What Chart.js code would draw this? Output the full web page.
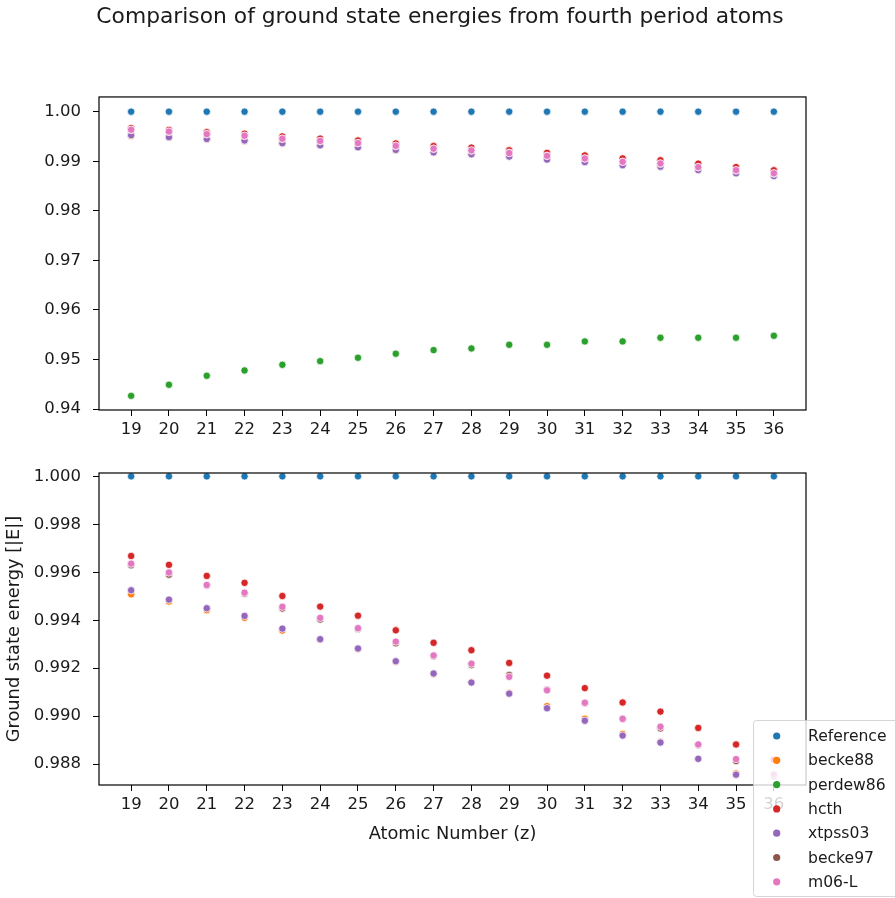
<!DOCTYPE html>
<html>
<head>
<meta charset="utf-8">
<script src="https://cdn.jsdelivr.net/npm/chart.js@4.4.1/dist/chart.umd.min.js"></script>
<style>
  html, body { margin: 0; padding: 0; background: #fff; }
  body { width: 895px; height: 898px; position: relative; overflow: hidden; }
  canvas { position: absolute; left: 0; }
  #topChart { top: 0; }
  #bottomChart { top: 440px; }
</style>
</head>
<body>
<canvas id="topChart" width="880" height="440"></canvas>
<canvas id="bottomChart" width="895" height="458"></canvas>
<script>
// Atomic numbers of the fourth period (K .. Kr)
const atomicNumbers = [19, 20, 21, 22, 23, 24, 25, 26, 27, 28, 29, 30, 31, 32, 33, 34, 35, 36];

// Ground state energies relative to the reference
const reference = [1, 1, 1, 1, 1, 1, 1, 1, 1, 1, 1, 1, 1, 1, 1, 1, 1, 1];
const becke88 = [0.99508, 0.99478, 0.99442, 0.99410, 0.99357, 0.99319, 0.99280, 0.99227, 0.99176,
                 0.99142, 0.99097, 0.99042, 0.98989, 0.98926, 0.98892, 0.98823, 0.98761, 0.98705];
const perdew86 = [0.94266, 0.94489, 0.94671, 0.94778, 0.94892, 0.94966, 0.95034, 0.95115, 0.95189,
                  0.95222, 0.95296, 0.95296, 0.95364, 0.95364, 0.95438, 0.95438, 0.95438, 0.95478];
const hcth = [0.99668, 0.99631, 0.99585, 0.99556, 0.99501, 0.99457, 0.99419, 0.99358, 0.99306,
              0.99275, 0.99222, 0.99169, 0.99117, 0.99057, 0.99019, 0.98951, 0.98882, 0.98818];
const xtpss03 = [0.99525, 0.99486, 0.99450, 0.99418, 0.99365, 0.99321, 0.99282, 0.99229, 0.99178,
                 0.99140, 0.99094, 0.99033, 0.98981, 0.98919, 0.98890, 0.98822, 0.98756, 0.98700];
const becke97 = [0.99629, 0.99590, 0.99545, 0.99511, 0.99449, 0.99403, 0.99364, 0.99304, 0.99250,
                 0.99213, 0.99172, 0.99110, 0.99054, 0.98988, 0.98949, 0.98880, 0.98813, 0.98750];
const m06L = [0.99636, 0.99599, 0.99547, 0.99515, 0.99456, 0.99410, 0.99367, 0.99311, 0.99253,
              0.99219, 0.99164, 0.99108, 0.99056, 0.98989, 0.98956, 0.98882, 0.98821, 0.98757];

const seriesNames = ['Reference', 'becke88', 'perdew86', 'hcth', 'xtpss03', 'becke97', 'm06-L'];
const seriesValues = [reference, becke88, perdew86, hcth, xtpss03, becke97, m06L];
const seriesColors = ['#1f77b4', '#ff7f0e', '#2ca02c', '#d62728', '#9467bd', '#8c564b', '#e377c2'];

// Tick labels
const topYTicks = [0.94, 0.95, 0.96, 0.97, 0.98, 0.99, 1.00];
const bottomYTicks = [0.988, 0.990, 0.992, 0.994, 0.996, 0.998, 1.000];

const FONT = 'DejaVu Sans';
const TEXT = '#1a1a1a';

Chart.defaults.font.family = FONT;
Chart.defaults.color = TEXT;

// Box around the plot area, like matplotlib spines
const framePlugin = {
    id: 'frame',
    afterDatasetsDraw(chart) {
        const { ctx, chartArea: a } = chart;
        ctx.save();
        ctx.strokeStyle = '#000';
        ctx.lineWidth = 1.2;
        ctx.strokeRect(a.left, a.top, a.right - a.left, a.bottom - a.top);
        ctx.restore();
    }
};

// Legend box sticking out at the bottom right of the lower plot
const sideLegend = {
    id: 'sideLegend',
    afterDraw(chart) {
        const ctx = chart.ctx;
        ctx.save();
        ctx.beginPath();
        ctx.roundRect(753.5, 280.5, 170, 176, 3);
        ctx.fillStyle = 'rgba(255,255,255,0.8)';
        ctx.fill();
        ctx.strokeStyle = 'rgba(204,204,204,0.8)';
        ctx.lineWidth = 1;
        ctx.stroke();
        ctx.font = '15.6px "' + FONT + '"';
        ctx.textBaseline = 'middle';
        chart.data.datasets.forEach((ds, i) => {
            const rowY = 296 + i * 24.3;
            ctx.beginPath();
            ctx.arc(776.7, rowY, 3.6, 0, Math.PI * 2);
            ctx.fillStyle = ds.backgroundColor;
            ctx.fill();
            ctx.fillStyle = TEXT;
            ctx.fillText(ds.label, 808, rowY + 1);
        });
        ctx.restore();
    }
};

function makeDatasets() {
    return seriesNames.map((name, i) => ({
        label: name,
        data: atomicNumbers.map((z, j) => ({ x: z, y: seriesValues[i][j] })),
        backgroundColor: seriesColors[i],
        borderColor: '#ffffff',
        borderWidth: 0.75,
        pointRadius: 3.7,
        pointHoverRadius: 3.7,
        order: seriesNames.length - i,   // later series drawn on top
        clip: 0
    }));
}

function makeOptions(cfg) {
    const scales = {
        x: {
            type: 'linear',
            min: 18.15,
            max: 36.85,
            afterBuildTicks: s => { s.ticks = atomicNumbers.map(v => ({ value: v })); },
            afterFit: s => {
                s.height = cfg.xHeight;
                s.paddingLeft = 0; s.paddingRight = 0;
            },
            grid: { drawOnChartArea: false, drawTicks: true, tickLength: 6, color: '#000' },
            border: { display: false },
            ticks: {
                autoSkip: false, maxRotation: 0, padding: 4,
                font: { size: 16.5 },
                callback: v => String(v)
            },
            title: cfg.xTitle ? {
                display: true, text: cfg.xTitle,
                font: { size: 17.8 }, padding: { top: 0, bottom: 10 }
            } : { display: false }
        },
        y: {
            type: 'linear',
            min: cfg.yMin,
            max: cfg.yMax,
            afterBuildTicks: s => { s.ticks = cfg.yTicks.map(v => ({ value: v })); },
            afterFit: s => {
                s.width = 99;
                s.paddingTop = 0; s.paddingBottom = 0;
            },
            grid: { drawOnChartArea: false, drawTicks: true, tickLength: 6, color: '#000' },
            border: { display: false },
            ticks: {
                padding: 12,
                font: { size: 16.5 },
                callback: v => v.toFixed(cfg.decimals)
            },
            title: cfg.yTitle ? {
                display: true, text: cfg.yTitle,
                font: { size: 17.8 }, padding: { top: 4, bottom: 0 }
            } : { display: false }
        }
    };
    if (cfg.rightSpace) {
        // empty right axis: only reserves room so the title centres like the figure title
        scales.yRight = {
            type: 'linear', position: 'right', min: 0, max: 1,
            grid: { display: false }, border: { display: false },
            ticks: { display: false },
            afterFit: s => { s.width = cfg.rightSpace; s.paddingTop = 0; s.paddingBottom = 0; }
        };
    }
    return {
        responsive: false,
        animation: false,
        events: [],
        layout: { padding: cfg.padding },
        plugins: {
            legend: { display: false },
            tooltip: { enabled: false },
            title: cfg.title ? {
                display: true,
                text: cfg.title,
                font: { size: 21.8, weight: 'normal' },
                color: TEXT,
                padding: { top: 4, bottom: 66.8 }
            } : { display: false }
        },
        scales: scales
    };
}

document.addEventListener('DOMContentLoaded', () => {
    // Upper plot: full range, includes perdew86
    new Chart(document.getElementById('topChart'), {
        type: 'scatter',
        data: { datasets: makeDatasets() },
        options: makeOptions({
            title: 'Comparison of ground state energies from fourth period atoms',
            padding: { top: 0, left: 0, right: 0, bottom: 0 },
            rightSpace: 74,
            xHeight: 30,
            yMin: 0.9398, yMax: 1.00297,
            yTicks: topYTicks, decimals: 2
        }),
        plugins: [framePlugin]
    });

    // Lower plot: zoomed near 1.0
    new Chart(document.getElementById('bottomChart'), {
        type: 'scatter',
        data: { datasets: makeDatasets() },
        options: makeOptions({
            padding: { top: 33, left: 0, right: 89, bottom: 43 },
            xHeight: 70,
            xTitle: 'Atomic Number (z)',
            yTitle: 'Ground state energy [|E|]',
            yMin: 0.98713, yMax: 1.00014,
            yTicks: bottomYTicks, decimals: 3
        }),
        plugins: [framePlugin, sideLegend]
    });
});
</script>
</body>
</html>
